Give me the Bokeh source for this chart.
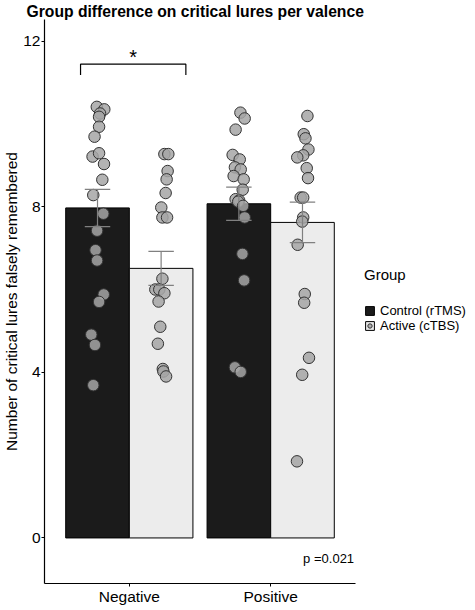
from bokeh.plotting import figure
from bokeh.models import Range1d, Legend, LegendItem, Label, ColumnDataSource
from bokeh.embed import file_html
from bokeh.resources import INLINE

# ---------------- data ----------------
categories = ["Negative", "Positive"]
groups = ["Control (rTMS)", "Active (cTBS)"]
mean_control = [7.97, 8.07]
mean_active = [6.51, 7.62]
se_control = [0.45, 0.40]
se_active = [0.41, 0.49]
y_ticks = [0, 4, 8, 12]

neg_control_y = [10.41, 10.35, 10.25, 10.17, 9.93, 9.69, 9.21, 9.29, 9.03, 8.65,
                 8.28, 7.83, 7.42, 6.95, 6.70, 5.88, 5.70, 4.91, 4.66, 3.69]
neg_control_jit = [-0.005, 0.048, 0.018, 0.011, 0.011, -0.021, -0.035, 0.011, 0.046, 0.034,
                   -0.030, 0.041, -0.003, -0.014, -0.003, 0.044, 0.011, -0.044, -0.018, -0.030]
neg_active_y = [9.27, 9.27, 8.86, 8.66, 8.33, 7.98, 7.74, 7.74, 6.26, 6.00,
                6.00, 5.91, 5.71, 5.10, 4.69, 4.08, 4.02, 3.90]
neg_active_jit = [0.023, 0.051, 0.046, 0.039, 0.032, 0.001, 0.009, 0.042, 0.009, -0.041,
                  -0.013, 0.023, -0.018, -0.006, -0.023, 0.012, 0.016, 0.035]
pos_control_y = [10.27, 10.13, 9.86, 9.25, 9.14, 8.95, 8.90, 8.74, 8.66, 8.41,
                 8.18, 8.15, 8.12, 8.02, 7.74, 6.86, 6.22, 4.12, 4.01]
pos_control_jit = [0.011, 0.041, -0.023, -0.044, 0.006, -0.028, 0.013, -0.037, 0.034, 0.027,
                   -0.023, 0.002, -0.005, 0.030, 0.041, 0.025, 0.037, -0.028, 0.013]
pos_active_y = [10.19, 9.75, 9.65, 9.38, 9.24, 9.19, 8.93, 8.69, 8.22, 8.22,
                7.74, 7.64, 7.08, 5.89, 5.68, 4.35, 3.94, 1.85]
pos_active_jit = [0.035, 0.009, 0.021, 0.042, 0.005, -0.037, 0.030, 0.039, -0.013, 0.005,
                  0.005, -0.002, -0.034, 0.016, 0.012, 0.046, -0.002, -0.039]

sig_left = 0.655
sig_right = 1.40
sig_top = 11.44
sig_bottom = 11.18
sig_star_y = 11.62
p_text = "p =0.021"

# ---------------- layout helpers ----------------
dodge = 0.225
bar_w = 0.45
cap_w = 0.18
cat_pos = [i + 1 for i in range(len(categories))]
X_LO, X_HI = 0.4, 2.6          # plotted category range (axis extent)

FONT = "Liberation Sans"
C_DARK = "#1b1b1b"
C_LIGHT = "#ececec"
PLOT_W = 311                    # pixels used by the category range
FRAME_W = 424                   # frame incl. legend area on the right
x_end = X_LO + (X_HI - X_LO) * FRAME_W / PLOT_W

p = figure(frame_width=FRAME_W, frame_height=564, x_range=Range1d(X_LO, x_end),
           y_range=Range1d(-1.1, 12.52),
           output_backend="svg", toolbar_location=None,
           min_border_left=0, min_border_right=0, min_border_top=0, min_border_bottom=0)

p.title.text = "Group difference on critical lures per valence"
p.title.text_font = FONT
p.title.text_font_size = "15.7px"
p.title.text_font_style = "bold"
p.title.text_color = "black"
p.title.align = "left"
p.title.offset = -18
p.title.standoff = 0

p.grid.visible = False
p.outline_line_color = None

xc = [c - dodge for c in cat_pos]
xa = [c + dodge for c in cat_pos]

bar_c = p.vbar(x=xc, top=mean_control, bottom=0, width=bar_w,
               fill_color=C_DARK, line_color="black", line_width=1)
bar_a = p.vbar(x=xa, top=mean_active, bottom=0, width=bar_w,
               fill_color=C_LIGHT, line_color="black", line_width=1)

def pts(ci, cx, ys, jits):
    return dict(x=[cat_pos[ci] + cx + j for j in jits], y=ys)

pt_kw = dict(size=11.5, fill_color="#a6a6a6", fill_alpha=0.85, line_color="#333333", line_width=1)
srcs = [ColumnDataSource(pts(0, -dodge, neg_control_y, neg_control_jit)),
        ColumnDataSource(pts(0, dodge, neg_active_y, neg_active_jit)),
        ColumnDataSource(pts(1, -dodge, pos_control_y, pos_control_jit)),
        ColumnDataSource(pts(1, dodge, pos_active_y, pos_active_jit))]
pt_renderers = [p.scatter(x="x", y="y", source=src, **pt_kw) for src in srcs]

# error bars
ex = xc + xa
emean = mean_control + mean_active
ese = se_control + se_active
lo = [m - s for m, s in zip(emean, ese)]
hi = [m + s for m, s in zip(emean, ese)]
eb_kw = dict(line_color="#808080", line_width=1.2)
p.segment(x0=ex, y0=lo, x1=ex, y1=hi, **eb_kw)
p.segment(x0=[x - cap_w / 2 for x in ex], y0=lo, x1=[x + cap_w / 2 for x in ex], y1=lo, **eb_kw)
p.segment(x0=[x - cap_w / 2 for x in ex], y0=hi, x1=[x + cap_w / 2 for x in ex], y1=hi, **eb_kw)

# significance bracket
p.line(x=[sig_left, sig_left, sig_right, sig_right], y=[sig_bottom, sig_top, sig_top, sig_bottom],
       line_color="black", line_width=1.2)
p.add_layout(Label(x=(sig_left + sig_right) / 2, y=sig_star_y, text="*", text_font=FONT,
                   text_font_size="20px", text_align="center", text_baseline="middle",
                   text_color="black"))
p.add_layout(Label(x=X_HI - 0.01, y=-0.5, text=p_text, text_font=FONT, text_font_size="13px",
                   text_align="right", text_baseline="middle", text_color="black"))

# axes
p.xaxis.ticker = cat_pos
p.xaxis.major_label_overrides = {c: n for c, n in zip(cat_pos, categories)}
p.xaxis.bounds = (X_LO, X_HI)
p.yaxis.ticker = y_ticks
p.yaxis.axis_label = "Number of critical lures falsely remembered"
for ax in [p.xaxis[0], p.yaxis[0]]:
    ax.axis_line_color = "black"
    ax.axis_line_width = 1.2
    ax.major_tick_line_color = "black"
    ax.major_tick_in = 0
    ax.major_tick_out = 3
    ax.minor_tick_line_color = None
    ax.major_label_text_font = FONT
    ax.major_label_text_font_size = "15.5px"
    ax.major_label_text_color = "black"
    ax.major_label_standoff = 1
    ax.axis_label_text_font = FONT
    ax.axis_label_text_font_size = "15.5px"
    ax.axis_label_text_font_style = "normal"
    ax.axis_label_text_color = "black"
    ax.axis_label_standoff = 0

# legend (inside the frame, to the right of the category range)
legend = Legend(items=[LegendItem(label=groups[0], renderers=[bar_c]),
                       LegendItem(label=groups[1], renderers=[bar_a, pt_renderers[1]])],
                title="Group", location=(PLOT_W + 9, 250))
legend.title_text_font = FONT
legend.title_text_font_size = "15px"
legend.title_text_font_style = "normal"
legend.title_text_color = "black"
legend.title_standoff = 20
legend.label_text_font = FONT
legend.label_text_font_size = "13px"
legend.label_text_color = "black"
legend.glyph_width = 11
legend.glyph_height = 11
legend.label_height = 11
legend.label_standoff = 5
legend.spacing = 0
legend.padding = 0
legend.margin = 0
legend.border_line_color = None
legend.background_fill_alpha = 0
p.add_layout(legend)

open("out.html", "w").write(file_html(p, INLINE))
